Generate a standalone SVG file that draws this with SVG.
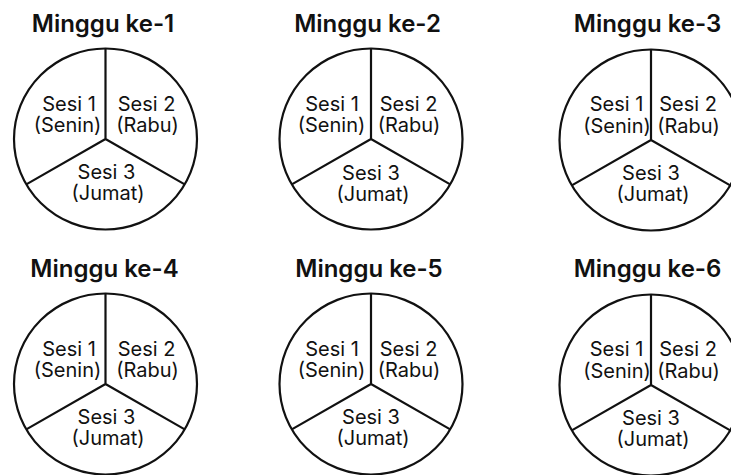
<svg xmlns="http://www.w3.org/2000/svg" width="731" height="475" viewBox="0 0 731 475">
  <style>
    .bg { fill: #ffffff; }
    .title { font-family: Inter, "Noto Sans", "DejaVu Sans", sans-serif; font-weight: 600; font-size: 24px; fill: #111; text-anchor: middle; }
    .lbl { font-family: Inter, "Noto Sans", "DejaVu Sans", sans-serif; font-weight: 400; font-size: 20px; fill: #111; text-anchor: middle; }
    .rim { fill: #ffffff; stroke: #111; stroke-width: 2.2; }
    .spoke { fill: none; stroke: #111; stroke-width: 2.2; stroke-linecap: butt; }
  </style>
  <defs>
    <!-- one weekly pie: circle split into three 120° sectors, centred at 0,0 -->
    <g id="pie">
      <ellipse class="rim" cx="0" cy="0" rx="91.5" ry="90.5"/>
      <path class="spoke" d="M0,-90.5 V0 M0,0 L-79.2,45.4 M0,0 L79.2,45.4"/>
    </g>
  </defs>
  <rect class="bg" x="0" y="0" width="731" height="475"/>

  <g id="week1">
    <text class="title" x="103" y="31.5">Minggu ke-1</text>
    <use href="#pie" x="105.5" y="139"/>
    <text class="lbl" x="69" y="110.5">Sesi 1</text>
    <text class="lbl" x="67.5" y="132">(Senin)</text>
    <text class="lbl" x="146.5" y="110.5">Sesi 2</text>
    <text class="lbl" x="147.5" y="132">(Rabu)</text>
    <text class="lbl" x="106.5" y="178.5">Sesi 3</text>
    <text class="lbl" x="108" y="200">(Jumat)</text>
  </g>

  <g id="week2">
    <text class="title" x="367.5" y="31.5">Minggu ke-2</text>
    <use href="#pie" x="371" y="139"/>
    <text class="lbl" x="332" y="110.5">Sesi 1</text>
    <text class="lbl" x="331.5" y="132">(Senin)</text>
    <text class="lbl" x="408.5" y="110.5">Sesi 2</text>
    <text class="lbl" x="409" y="132">(Rabu)</text>
    <text class="lbl" x="371" y="179.5">Sesi 3</text>
    <text class="lbl" x="373" y="201">(Jumat)</text>
  </g>

  <g id="week3">
    <text class="title" x="647.5" y="31.5">Minggu ke-3</text>
    <use href="#pie" x="651" y="140"/>
    <text class="lbl" x="616.5" y="111">Sesi 1</text>
    <text class="lbl" x="617" y="132.5">(Senin)</text>
    <text class="lbl" x="688" y="111">Sesi 2</text>
    <text class="lbl" x="688.5" y="132.5">(Rabu)</text>
    <text class="lbl" x="651" y="179.5">Sesi 3</text>
    <text class="lbl" x="653" y="201">(Jumat)</text>
  </g>

  <g id="week4">
    <text class="title" x="104.5" y="276.5">Minggu ke-4</text>
    <use href="#pie" x="105.5" y="384"/>
    <text class="lbl" x="69" y="355.5">Sesi 1</text>
    <text class="lbl" x="67.5" y="377">(Senin)</text>
    <text class="lbl" x="146.5" y="355.5">Sesi 2</text>
    <text class="lbl" x="147.5" y="377">(Rabu)</text>
    <text class="lbl" x="106.5" y="423.5">Sesi 3</text>
    <text class="lbl" x="108" y="445">(Jumat)</text>
  </g>

  <g id="week5">
    <text class="title" x="369" y="276.5">Minggu ke-5</text>
    <use href="#pie" x="371" y="384"/>
    <text class="lbl" x="332" y="355.5">Sesi 1</text>
    <text class="lbl" x="331.5" y="377">(Senin)</text>
    <text class="lbl" x="408.5" y="355.5">Sesi 2</text>
    <text class="lbl" x="409" y="377">(Rabu)</text>
    <text class="lbl" x="371" y="423.5">Sesi 3</text>
    <text class="lbl" x="373" y="445">(Jumat)</text>
  </g>

  <g id="week6">
    <text class="title" x="647.5" y="276.5">Minggu ke-6</text>
    <use href="#pie" x="651" y="385"/>
    <text class="lbl" x="616.5" y="356">Sesi 1</text>
    <text class="lbl" x="617" y="377.5">(Senin)</text>
    <text class="lbl" x="688" y="356">Sesi 2</text>
    <text class="lbl" x="688.5" y="377.5">(Rabu)</text>
    <text class="lbl" x="651" y="424.5">Sesi 3</text>
    <text class="lbl" x="653" y="446">(Jumat)</text>
  </g>
</svg>
